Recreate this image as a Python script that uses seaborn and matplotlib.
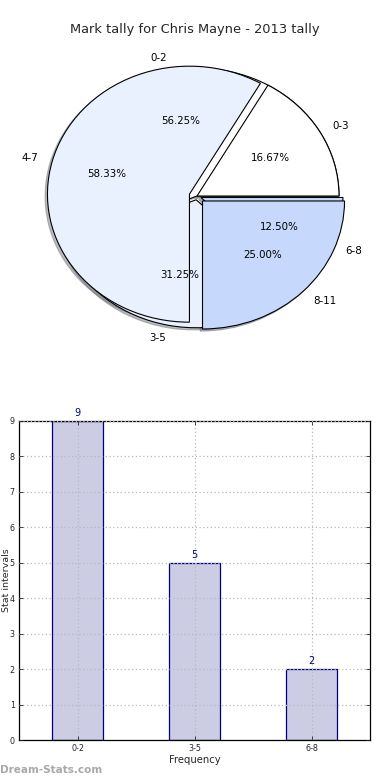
import matplotlib
matplotlib.use('Agg')
import matplotlib.pyplot as plt
import seaborn as sns
import pandas as pd

#---------------------

title = 'Mark tally for Chris Mayne - 2013 tally'

# first tally (also used for the bar chart)
tally_labels = ['0-2', '3-5', '6-8']
tally_counts = [9, 5, 2]

# second tally
tally2_labels = ['0-3', '4-7', '8-11']
tally2_counts = [2, 7, 3]

wedge_colors = ['#ffffff', '#eaf1fe', '#c6d9fd']

#---------------------

sns.set_theme(style='white')
plt.rcParams['font.family'] = ['DejaVu Sans']

fig = plt.figure(figsize=(3.9, 7.8), dpi=100)

# pie axes - aspect left free so the pie comes out a bit squashed
ax1 = fig.add_axes([19.5 / 390, 1 - 356 / 780, 355 / 390, 320 / 780])

for labels, counts, explode in [(tally_labels, tally_counts, (0, 0.03, 0.03)),
                                (tally2_labels, tally2_counts, (0, 0.055, 0.055))]:
    wedges, texts, autotexts = ax1.pie(
        counts, labels=labels, colors=wedge_colors, explode=explode,
        autopct='%1.2f%%', shadow={'ox': -0.012, 'oy': -0.012, 'shade': 0.5},
        startangle=0, counterclock=True,
        wedgeprops={'edgecolor': 'black', 'linewidth': 0.8},
        textprops={'fontsize': 7.4, 'color': 'black'})

ax1.set_aspect('auto')
ax1.set_xlim(-1.25, 1.25)
ax1.set_ylim(-1.25, 1.25)
ax1.axis('off')

fig.text(0.5, 1 - 30 / 780, title, ha='center', va='center', fontsize=9.4)

#---------------------

ax2 = fig.add_axes([19 / 390, 40 / 780, 351 / 390, 319 / 780])

df = pd.DataFrame({'interval': tally_labels, 'count': tally_counts})
sns.barplot(data=df, x='interval', y='count', ax=ax2, width=0.444,
            color='#ccccE5', edgecolor='#000080', linewidth=0.9,
            saturation=1)
ax2.bar_label(ax2.containers[0], padding=2, color='#000080', fontsize=7)

ax2.set_xlim(-0.5, 2.5)
ax2.set_ylim(0, 9)
ax2.set_yticks(range(0, 10))
ax2.grid(True, linestyle=(0, (1, 2)), color='#b8b8b8', linewidth=0.9)
ax2.set_axisbelow(False)
for s in ax2.spines.values():
    s.set_color('black')
    s.set_linewidth(0.9)
    s.set_visible(True)
ax2.tick_params(direction='in', length=3, width=0.6, labelsize=5.8,
                top=True, right=True, bottom=True, left=True, pad=3)
ax2.set_xlabel('Frequency', fontsize=7.2, labelpad=1)
ax2.set_ylabel('Stat intervals', fontsize=6.8)
ax2.yaxis.set_label_coords(-0.0242, 0.5)

fig.text(0.0, 0.006, 'Dream-Stats.com', color='#a8a8a8', fontsize=7.5,
         fontweight='bold', ha='left', va='bottom')

fig.savefig('out.png', dpi=100)
